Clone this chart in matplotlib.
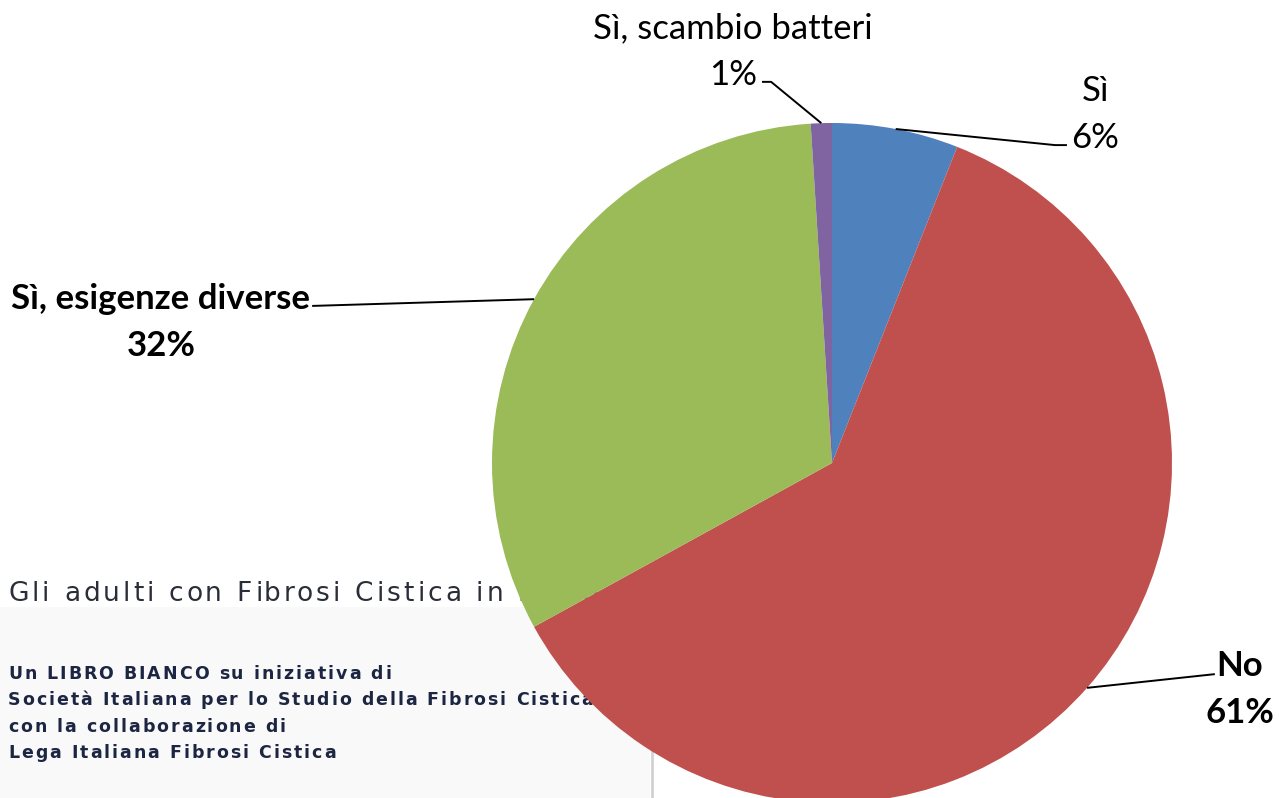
import numpy as np
import matplotlib.pyplot as plt
from matplotlib.patches import Rectangle
from matplotlib.textpath import TextToPath
from matplotlib.font_manager import FontProperties

# Survey answers and their shares (%)
categories = ["Sì", "No", "Sì, esigenze diverse", "Sì, scambio batteri"]
shares = [6, 61, 32, 1]
colors = ["#4F81BD", "#C0504D", "#9BBB59", "#8064A2"]
bold_label = [False, True, True, False]

# Label placement (pie data units, radius = 1) and leader line elbows
label_pos = [(0.774, 1.024), (1.200, -0.666), (-1.974, 0.414), (-0.291, 1.210)]
leader_pts = [
    [(0.656, 0.935), (0.691, 0.935)],
    [(1.126, -0.621)],
    [(-1.529, 0.462)],
    [(-0.179, 1.121), (-0.206, 1.121)],
]

title_doc = "Gli adulti con Fibrosi Cistica in Italia"
doc_lines = [
    "Un LIBRO BIANCO su iniziativa di",
    "Società Italiana per lo Studio della Fibrosi Cistica",
    "con la collaborazione di",
    "Lega Italiana Fibrosi Cistica",
]

W, H = 1279, 798
DPI = 100
fig = plt.figure(figsize=(W / DPI, H / DPI), dpi=DPI)
fig.patch.set_facecolor("white")

_t2p = TextToPath()


def _advance_px(s, prop):
    """Advance width of string s in pixels (trailing spaces included)."""
    if not s:
        return 0.0
    w1 = _t2p.get_text_width_height_descent(s + "x", prop, ismath=False)[0]
    w0 = _t2p.get_text_width_height_descent("x", prop, ismath=False)[0]
    return (w1 - w0) * DPI / 72.0


def tracked_text(axis, x, y, s, size, track, color, weight="normal",
                 family="DejaVu Sans"):
    """Draw s letter by letter with extra spacing (pixels) between glyphs."""
    prop = FontProperties(family=family, weight=weight, size=size)
    for i, ch in enumerate(s):
        if ch == " ":
            continue
        xi = x + _advance_px(s[:i], prop) + i * track
        axis.text(xi, y, ch, fontproperties=prop, color=color,
                  ha="left", va="baseline")


# Background document panel (pixel coordinates)
bg = fig.add_axes([0, 0, 1, 1])
bg.set_xlim(0, W)
bg.set_ylim(H, 0)
bg.axis("off")
bg.add_patch(Rectangle((0, 607), 650, H - 607, facecolor="#f9f9f9", lw=0))
bg.plot([652, 652], [748, H], color="#d2d2d2", lw=2)
tracked_text(bg, 8, 601, title_doc, 19, 3.1, "#2a2e38")
for i, s in enumerate(doc_lines):
    tracked_text(bg, 8, 679 + 26.4 * i, s, 12.5, 2.0, "#1c2541", weight="bold")

# Pie chart
ax = fig.add_axes([492 / W, 1 - 803 / H, 680 / W, 680 / H])
wedges, _ = ax.pie(shares, colors=colors, startangle=90, counterclock=False,
                   radius=1, wedgeprops=dict(linewidth=0))
ax.set_xlim(-1, 1)
ax.set_ylim(-1, 1)
ax.set_aspect("equal")
ax.axis("off")

for w, cat, val, pos, pts, b in zip(wedges, categories, shares, label_pos,
                                    leader_pts, bold_label):
    mid = np.deg2rad((w.theta1 + w.theta2) / 2)
    xs = [np.cos(mid)] + [p[0] for p in pts]
    ys = [np.sin(mid)] + [p[1] for p in pts]
    ax.plot(xs, ys, color="black", lw=1.4, clip_on=False, solid_capstyle="butt")
    ax.text(pos[0], pos[1], f"{cat}\n{val}%", ha="center", va="center",
            multialignment="center", fontsize=25, family="Lato",
            fontweight="bold" if b else "normal", color="black",
            linespacing=1.58, clip_on=False)

fig.savefig("out.png", dpi=DPI)
